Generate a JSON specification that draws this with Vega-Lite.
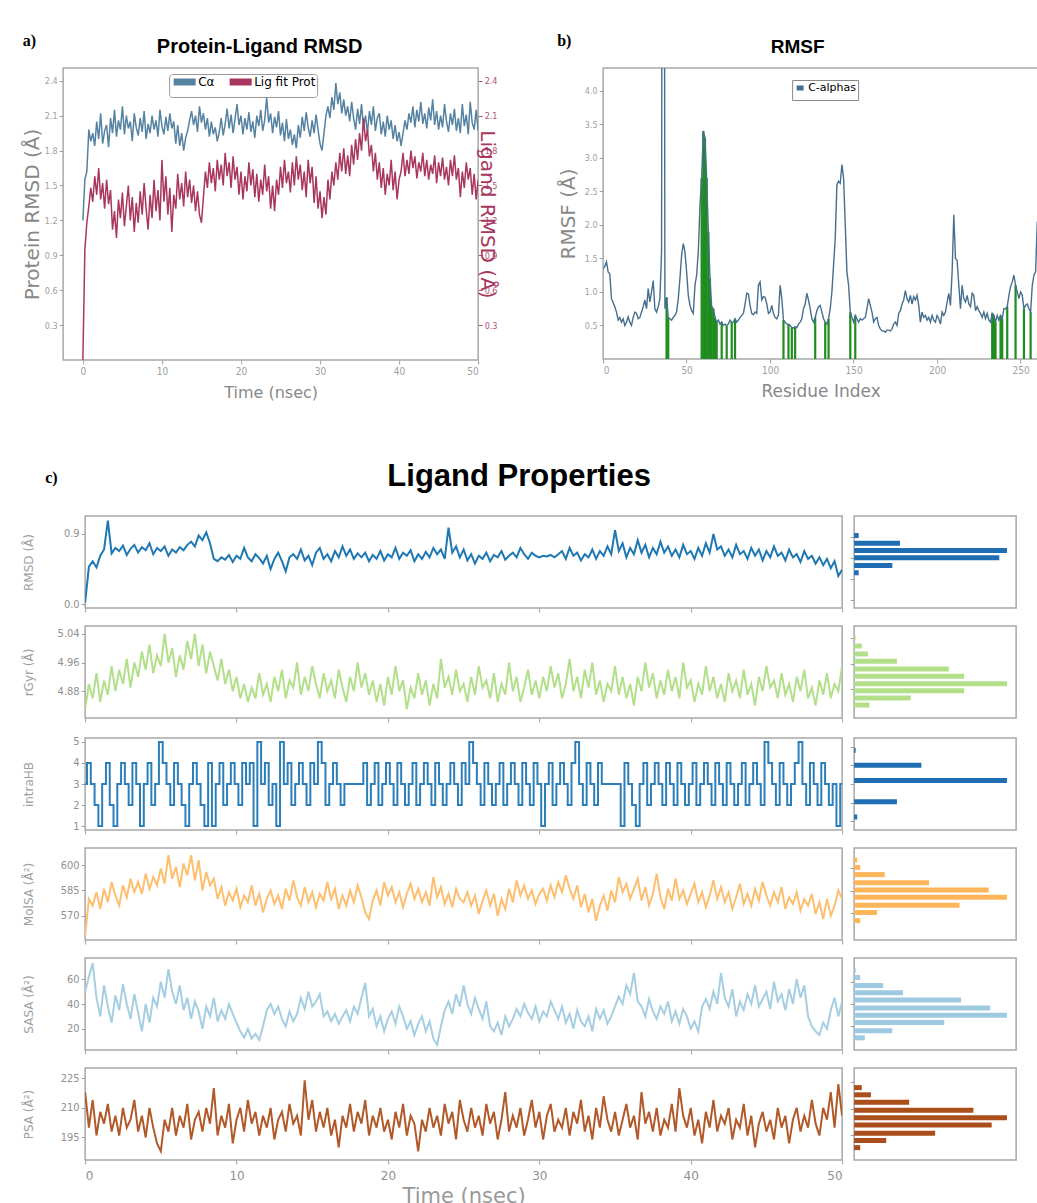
{
"$schema": "https://vega.github.io/schema/vega-lite/v6.json",
"background": "white",
"padding": {"left": 21, "top": 32, "right": 0, "bottom": 0},
"config": {
  "view": {"stroke": "#a8a8a8", "strokeWidth": 1.5},
  "axis": {"domain": false, "grid": false, "tickColor": "#a0a0a0", "tickSize": 4, "tickWidth": 1, "labelColor": "#909090", "labelFont": "DejaVu Sans Condensed, Liberation Sans Narrow, DejaVu Sans", "labelFontSize": 11, "titleColor": "#a0a0a0", "titleFont": "DejaVu Sans", "titleFontWeight": "normal", "titleFontSize": 12},
  "title": {"font": "Liberation Sans", "fontWeight": "bold", "color": "#000000"},
  "font": "DejaVu Sans"
},
"datasets": {
"md": [
{"t":0,"a":1.20,"l":0.00,"r":0.02,"g":4.83,"h":3,"m":558,"s":50,"p":218},
{"t":0.25,"a":1.55,"l":0.95,"r":0.48,"g":4.90,"h":4,"m":580,"s":62,"p":200},
{"t":0.5,"a":1.62,"l":1.18,"r":0.55,"g":4.86,"h":3,"m":576,"s":73,"p":214},
{"t":0.75,"a":1.98,"l":1.32,"r":0.47,"g":4.93,"h":2,"m":584,"s":45,"p":196},
{"t":1,"a":1.88,"l":1.48,"r":0.62,"g":4.85,"h":1,"m":574,"s":30,"p":208},
{"t":1.25,"a":1.95,"l":1.36,"r":0.70,"g":4.91,"h":3,"m":586,"s":55,"p":202},
{"t":1.5,"a":1.84,"l":1.58,"r":1.07,"g":4.87,"h":4,"m":578,"s":38,"p":212},
{"t":1.75,"a":2.05,"l":1.42,"r":0.65,"g":4.95,"h":2,"m":590,"s":25,"p":198},
{"t":2,"a":1.90,"l":1.65,"r":0.72,"g":4.88,"h":1,"m":582,"s":47,"p":206},
{"t":2.25,"a":2.12,"l":1.38,"r":0.68,"g":4.94,"h":3,"m":576,"s":35,"p":196},
{"t":2.5,"a":1.86,"l":1.52,"r":0.75,"g":4.90,"h":4,"m":588,"s":56,"p":210},
{"t":2.75,"a":1.97,"l":1.30,"r":0.63,"g":4.97,"h":3,"m":581,"s":40,"p":200},
{"t":3,"a":2.02,"l":1.55,"r":0.71,"g":4.89,"h":2,"m":592,"s":28,"p":204},
{"t":3.25,"a":1.83,"l":1.34,"r":0.76,"g":4.96,"h":4,"m":584,"s":48,"p":214},
{"t":3.5,"a":2.08,"l":1.46,"r":0.66,"g":4.92,"h":3,"m":590,"s":33,"p":198},
{"t":3.75,"a":1.95,"l":1.12,"r":0.73,"g":4.99,"h":1,"m":583,"s":18,"p":206},
{"t":4,"a":2.15,"l":1.28,"r":0.69,"g":4.94,"h":3,"m":595,"s":40,"p":195},
{"t":4.25,"a":1.92,"l":1.05,"r":0.78,"g":5.01,"h":4,"m":586,"s":25,"p":210},
{"t":4.5,"a":2.06,"l":1.38,"r":0.64,"g":4.93,"h":2,"m":593,"s":45,"p":200},
{"t":4.75,"a":1.98,"l":1.22,"r":0.72,"g":4.98,"h":3,"m":588,"s":38,"p":192},
{"t":5,"a":2.18,"l":1.44,"r":0.68,"g":4.95,"h":5,"m":598,"s":58,"p":188},
{"t":5.25,"a":1.94,"l":1.15,"r":0.74,"g":5.04,"h":4,"m":589,"s":45,"p":204},
{"t":5.5,"a":2.10,"l":1.32,"r":0.62,"g":4.96,"h":3,"m":606,"s":68,"p":198},
{"t":5.75,"a":1.99,"l":1.50,"r":0.70,"g":5.00,"h":2,"m":592,"s":50,"p":210},
{"t":6,"a":2.05,"l":1.20,"r":0.66,"g":4.92,"h":4,"m":599,"s":40,"p":196},
{"t":6.25,"a":1.88,"l":1.40,"r":0.73,"g":4.98,"h":3,"m":587,"s":55,"p":206},
{"t":6.5,"a":2.12,"l":1.10,"r":0.69,"g":4.94,"h":2,"m":601,"s":35,"p":200},
{"t":6.75,"a":2.00,"l":1.35,"r":0.76,"g":5.02,"h":1,"m":594,"s":45,"p":212},
{"t":7,"a":1.93,"l":1.18,"r":0.80,"g":4.97,"h":3,"m":606,"s":28,"p":194},
{"t":7.25,"a":2.08,"l":1.45,"r":0.74,"g":5.04,"h":4,"m":591,"s":42,"p":204},
{"t":7.5,"a":1.96,"l":1.25,"r":0.88,"g":4.95,"h":3,"m":603,"s":34,"p":208},
{"t":7.75,"a":2.14,"l":1.52,"r":0.82,"g":5.01,"h":2,"m":585,"s":20,"p":198},
{"t":8,"a":1.90,"l":1.30,"r":0.92,"g":4.93,"h":1,"m":596,"s":38,"p":210},
{"t":8.25,"a":2.03,"l":1.12,"r":0.78,"g":4.99,"h":4,"m":588,"s":30,"p":202},
{"t":8.5,"a":1.95,"l":1.42,"r":0.58,"g":4.95,"h":1,"m":592,"s":45,"p":220},
{"t":8.75,"a":2.10,"l":1.22,"r":0.55,"g":4.91,"h":3,"m":580,"s":26,"p":196},
{"t":9,"a":1.98,"l":1.55,"r":0.60,"g":4.97,"h":4,"m":587,"s":35,"p":206},
{"t":9.25,"a":2.06,"l":1.28,"r":0.57,"g":4.90,"h":2,"m":576,"s":28,"p":200},
{"t":9.5,"a":1.92,"l":1.46,"r":0.63,"g":4.94,"h":3,"m":584,"s":40,"p":212},
{"t":9.75,"a":2.15,"l":1.20,"r":0.54,"g":4.88,"h":4,"m":579,"s":32,"p":192},
{"t":10,"a":2.01,"l":1.72,"r":0.62,"g":4.92,"h":3,"m":586,"s":25,"p":204},
{"t":10.25,"a":1.94,"l":1.36,"r":0.58,"g":4.86,"h":2,"m":575,"s":18,"p":210},
{"t":10.5,"a":2.09,"l":1.58,"r":0.72,"g":4.90,"h":4,"m":582,"s":13,"p":198},
{"t":10.75,"a":1.97,"l":1.25,"r":0.60,"g":4.85,"h":3,"m":578,"s":20,"p":214},
{"t":11,"a":2.12,"l":1.48,"r":0.55,"g":4.89,"h":4,"m":588,"s":12,"p":202},
{"t":11.25,"a":1.99,"l":1.10,"r":0.64,"g":4.86,"h":1,"m":576,"s":16,"p":208},
{"t":11.5,"a":2.05,"l":1.42,"r":0.59,"g":4.93,"h":5,"m":583,"s":11,"p":196},
{"t":11.75,"a":1.86,"l":1.30,"r":0.52,"g":4.87,"h":3,"m":572,"s":22,"p":206},
{"t":12,"a":2.02,"l":1.60,"r":0.62,"g":4.90,"h":4,"m":580,"s":35,"p":200},
{"t":12.25,"a":1.84,"l":1.38,"r":0.45,"g":4.85,"h":2,"m":585,"s":40,"p":210},
{"t":12.5,"a":1.95,"l":1.52,"r":0.58,"g":4.92,"h":3,"m":577,"s":32,"p":194},
{"t":12.75,"a":1.80,"l":1.32,"r":0.66,"g":4.88,"h":1,"m":582,"s":38,"p":204},
{"t":13,"a":1.91,"l":1.62,"r":0.55,"g":4.94,"h":5,"m":574,"s":28,"p":208},
{"t":13.25,"a":1.97,"l":1.40,"r":0.42,"g":4.86,"h":3,"m":586,"s":22,"p":198},
{"t":13.5,"a":2.06,"l":1.55,"r":0.60,"g":4.91,"h":4,"m":579,"s":34,"p":212},
{"t":13.75,"a":2.14,"l":1.35,"r":0.64,"g":4.89,"h":2,"m":591,"s":26,"p":202},
{"t":14,"a":2.02,"l":1.50,"r":0.58,"g":4.96,"h":3,"m":581,"s":32,"p":206},
{"t":14.25,"a":2.10,"l":1.28,"r":0.70,"g":4.87,"h":4,"m":576,"s":45,"p":196},
{"t":14.5,"a":1.96,"l":1.45,"r":0.56,"g":4.92,"h":3,"m":587,"s":36,"p":224},
{"t":14.75,"a":2.18,"l":1.25,"r":0.62,"g":4.88,"h":2,"m":578,"s":50,"p":204},
{"t":15,"a":2.04,"l":1.18,"r":0.50,"g":4.95,"h":4,"m":584,"s":38,"p":214},
{"t":15.25,"a":2.12,"l":1.40,"r":0.66,"g":4.90,"h":3,"m":575,"s":42,"p":198},
{"t":15.5,"a":1.98,"l":1.62,"r":0.72,"g":4.86,"h":5,"m":583,"s":48,"p":208},
{"t":15.75,"a":2.08,"l":1.48,"r":0.58,"g":4.93,"h":4,"m":579,"s":30,"p":200},
{"t":16,"a":1.92,"l":1.70,"r":0.64,"g":4.88,"h":2,"m":590,"s":34,"p":210},
{"t":16.25,"a":2.05,"l":1.52,"r":0.55,"g":4.91,"h":3,"m":580,"s":26,"p":196},
{"t":16.5,"a":1.94,"l":1.65,"r":0.68,"g":4.86,"h":4,"m":586,"s":32,"p":204},
{"t":16.75,"a":2.00,"l":1.45,"r":0.60,"g":4.94,"h":3,"m":574,"s":24,"p":190},
{"t":17,"a":1.88,"l":1.72,"r":0.74,"g":4.89,"h":2,"m":582,"s":30,"p":206},
{"t":17.25,"a":1.96,"l":1.55,"r":0.62,"g":4.85,"h":3,"m":576,"s":35,"p":200},
{"t":17.5,"a":2.08,"l":1.68,"r":0.70,"g":4.92,"h":3,"m":585,"s":26,"p":212},
{"t":17.75,"a":1.93,"l":1.50,"r":0.58,"g":4.88,"h":3,"m":578,"s":38,"p":198},
{"t":18,"a":2.03,"l":1.78,"r":0.65,"g":4.96,"h":3,"m":588,"s":32,"p":208},
{"t":18.25,"a":2.16,"l":1.58,"r":0.60,"g":4.89,"h":3,"m":581,"s":45,"p":202},
{"t":18.5,"a":1.99,"l":1.70,"r":0.66,"g":4.93,"h":4,"m":572,"s":57,"p":214},
{"t":18.75,"a":2.11,"l":1.48,"r":0.55,"g":4.87,"h":2,"m":568,"s":30,"p":196},
{"t":19,"a":1.95,"l":1.75,"r":0.63,"g":4.91,"h":3,"m":579,"s":36,"p":206},
{"t":19.25,"a":2.07,"l":1.55,"r":0.58,"g":4.85,"h":4,"m":585,"s":22,"p":200},
{"t":19.5,"a":2.20,"l":1.66,"r":0.68,"g":4.90,"h":2,"m":576,"s":30,"p":210},
{"t":19.75,"a":2.02,"l":1.42,"r":0.56,"g":4.84,"h":3,"m":590,"s":18,"p":198},
{"t":20,"a":2.10,"l":1.62,"r":0.64,"g":4.92,"h":4,"m":582,"s":28,"p":204},
{"t":20.25,"a":1.94,"l":1.38,"r":0.60,"g":4.87,"h":3,"m":587,"s":34,"p":194},
{"t":20.5,"a":2.08,"l":1.58,"r":0.72,"g":4.95,"h":2,"m":578,"s":24,"p":208},
{"t":20.75,"a":1.98,"l":1.45,"r":0.58,"g":4.88,"h":4,"m":584,"s":38,"p":200},
{"t":21,"a":2.13,"l":1.70,"r":0.66,"g":4.91,"h":3,"m":575,"s":30,"p":212},
{"t":21.25,"a":1.96,"l":1.50,"r":0.62,"g":4.83,"h":2,"m":583,"s":20,"p":196},
{"t":21.5,"a":2.05,"l":1.64,"r":0.69,"g":4.89,"h":3,"m":589,"s":26,"p":206},
{"t":21.75,"a":1.91,"l":1.40,"r":0.55,"g":4.86,"h":4,"m":580,"s":15,"p":202},
{"t":22,"a":2.10,"l":1.60,"r":0.64,"g":4.93,"h":2,"m":586,"s":24,"p":188},
{"t":22.25,"a":2.01,"l":1.36,"r":0.58,"g":4.87,"h":3,"m":578,"s":30,"p":204},
{"t":22.5,"a":2.15,"l":1.55,"r":0.67,"g":4.91,"h":4,"m":584,"s":18,"p":198},
{"t":22.75,"a":1.97,"l":1.42,"r":0.60,"g":4.84,"h":3,"m":576,"s":26,"p":210},
{"t":23,"a":2.06,"l":1.68,"r":0.72,"g":4.90,"h":2,"m":593,"s":12,"p":200},
{"t":23.25,"a":2.26,"l":1.45,"r":0.64,"g":4.86,"h":4,"m":581,"s":7,"p":206},
{"t":23.5,"a":2.04,"l":1.58,"r":0.70,"g":4.97,"h":3,"m":587,"s":22,"p":196},
{"t":23.75,"a":2.12,"l":1.30,"r":0.58,"g":4.89,"h":2,"m":577,"s":35,"p":212},
{"t":24,"a":1.95,"l":1.50,"r":0.98,"g":4.92,"h":3,"m":583,"s":42,"p":202},
{"t":24.25,"a":2.09,"l":1.28,"r":0.66,"g":4.87,"h":4,"m":575,"s":32,"p":208},
{"t":24.5,"a":2.00,"l":1.55,"r":0.74,"g":4.94,"h":3,"m":586,"s":48,"p":194},
{"t":24.75,"a":2.14,"l":1.42,"r":0.60,"g":4.88,"h":2,"m":580,"s":38,"p":214},
{"t":25,"a":1.93,"l":1.66,"r":0.70,"g":4.90,"h":4,"m":578,"s":55,"p":204},
{"t":25.25,"a":2.04,"l":1.48,"r":0.56,"g":4.85,"h":3,"m":584,"s":40,"p":198},
{"t":25.5,"a":1.88,"l":1.72,"r":0.64,"g":4.92,"h":5,"m":576,"s":32,"p":210},
{"t":25.75,"a":2.07,"l":1.52,"r":0.52,"g":4.87,"h":4,"m":582,"s":45,"p":200},
{"t":26,"a":1.90,"l":1.62,"r":0.62,"g":4.95,"h":3,"m":571,"s":36,"p":206},
{"t":26.25,"a":1.98,"l":1.44,"r":0.58,"g":4.89,"h":2,"m":579,"s":28,"p":196},
{"t":26.5,"a":1.85,"l":1.70,"r":0.66,"g":4.91,"h":4,"m":585,"s":42,"p":212},
{"t":26.75,"a":1.94,"l":1.50,"r":0.55,"g":4.86,"h":3,"m":576,"s":22,"p":202},
{"t":27,"a":1.82,"l":1.75,"r":0.63,"g":4.93,"h":2,"m":583,"s":18,"p":208},
{"t":27.25,"a":2.02,"l":1.55,"r":0.60,"g":4.85,"h":3,"m":570,"s":25,"p":194},
{"t":27.5,"a":1.91,"l":1.68,"r":0.68,"g":4.90,"h":4,"m":580,"s":15,"p":204},
{"t":27.75,"a":2.09,"l":1.46,"r":0.57,"g":4.87,"h":2,"m":574,"s":30,"p":218},
{"t":28,"a":1.97,"l":1.62,"r":0.62,"g":4.96,"h":3,"m":586,"s":22,"p":198},
{"t":28.25,"a":2.13,"l":1.40,"r":0.66,"g":4.88,"h":4,"m":578,"s":28,"p":206},
{"t":28.5,"a":2.00,"l":1.72,"r":0.60,"g":4.92,"h":3,"m":591,"s":36,"p":200},
{"t":28.75,"a":1.92,"l":1.52,"r":0.72,"g":4.85,"h":2,"m":582,"s":30,"p":210},
{"t":29,"a":2.06,"l":1.66,"r":0.64,"g":4.89,"h":4,"m":588,"s":40,"p":196},
{"t":29.25,"a":1.95,"l":1.35,"r":0.58,"g":4.94,"h":3,"m":580,"s":33,"p":204},
{"t":29.5,"a":2.11,"l":1.58,"r":0.66,"g":4.87,"h":2,"m":585,"s":28,"p":214},
{"t":29.75,"a":1.98,"l":1.30,"r":0.62,"g":4.91,"h":4,"m":577,"s":38,"p":200},
{"t":30,"a":1.86,"l":1.45,"r":0.60,"g":4.86,"h":3,"m":583,"s":26,"p":208},
{"t":30.25,"a":1.80,"l":1.22,"r":0.62,"g":4.92,"h":1,"m":586,"s":34,"p":194},
{"t":30.5,"a":1.95,"l":1.40,"r":0.61,"g":4.88,"h":3,"m":579,"s":30,"p":206},
{"t":30.75,"a":2.10,"l":1.25,"r":0.63,"g":4.95,"h":4,"m":588,"s":42,"p":212},
{"t":31,"a":2.18,"l":1.55,"r":0.60,"g":4.89,"h":2,"m":581,"s":35,"p":198},
{"t":31.25,"a":2.08,"l":1.38,"r":0.64,"g":4.93,"h":3,"m":590,"s":28,"p":204},
{"t":31.5,"a":2.26,"l":1.62,"r":0.68,"g":4.86,"h":4,"m":584,"s":38,"p":200},
{"t":31.75,"a":2.15,"l":1.50,"r":0.58,"g":4.90,"h":3,"m":594,"s":25,"p":210},
{"t":32,"a":2.38,"l":1.70,"r":0.72,"g":4.97,"h":2,"m":586,"s":32,"p":196},
{"t":32.25,"a":2.20,"l":1.55,"r":0.62,"g":4.88,"h":4,"m":580,"s":20,"p":208},
{"t":32.5,"a":2.30,"l":1.78,"r":0.66,"g":4.92,"h":5,"m":588,"s":35,"p":202},
{"t":32.75,"a":2.12,"l":1.62,"r":0.56,"g":4.86,"h":3,"m":575,"s":26,"p":214},
{"t":33,"a":2.24,"l":1.82,"r":0.64,"g":4.94,"h":2,"m":583,"s":22,"p":198},
{"t":33.25,"a":2.10,"l":1.60,"r":0.60,"g":4.89,"h":4,"m":572,"s":30,"p":206},
{"t":33.5,"a":2.18,"l":1.76,"r":0.70,"g":4.96,"h":3,"m":580,"s":18,"p":194},
{"t":33.75,"a":2.05,"l":1.58,"r":0.58,"g":4.87,"h":2,"m":567,"s":36,"p":210},
{"t":34,"a":2.22,"l":1.85,"r":0.68,"g":4.91,"h":4,"m":576,"s":28,"p":200},
{"t":34.25,"a":2.08,"l":1.68,"r":0.62,"g":4.85,"h":3,"m":582,"s":35,"p":216},
{"t":34.5,"a":1.98,"l":1.90,"r":0.74,"g":4.90,"h":3,"m":573,"s":24,"p":204},
{"t":34.75,"a":2.16,"l":1.72,"r":0.64,"g":4.88,"h":3,"m":585,"s":30,"p":198},
{"t":35,"a":2.03,"l":1.95,"r":0.95,"g":4.95,"h":3,"m":578,"s":38,"p":208},
{"t":35.25,"a":2.20,"l":1.80,"r":0.68,"g":4.87,"h":3,"m":593,"s":46,"p":196},
{"t":35.5,"a":2.00,"l":2.08,"r":0.78,"g":4.92,"h":1,"m":584,"s":40,"p":204},
{"t":35.75,"a":2.10,"l":1.88,"r":0.60,"g":4.86,"h":4,"m":589,"s":55,"p":212},
{"t":36,"a":1.95,"l":1.98,"r":0.72,"g":4.90,"h":3,"m":580,"s":48,"p":200},
{"t":36.25,"a":2.14,"l":1.75,"r":0.64,"g":4.84,"h":2,"m":586,"s":65,"p":206},
{"t":36.5,"a":2.02,"l":1.85,"r":0.82,"g":4.92,"h":1,"m":592,"s":42,"p":194},
{"t":36.75,"a":2.18,"l":1.62,"r":0.66,"g":4.88,"h":3,"m":579,"s":38,"p":218},
{"t":37,"a":1.97,"l":1.78,"r":0.76,"g":4.96,"h":4,"m":587,"s":30,"p":202},
{"t":37.25,"a":2.08,"l":1.55,"r":0.60,"g":4.89,"h":2,"m":576,"s":44,"p":208},
{"t":37.5,"a":2.12,"l":1.70,"r":0.72,"g":4.93,"h":3,"m":583,"s":34,"p":198},
{"t":37.75,"a":1.94,"l":1.48,"r":0.64,"g":4.86,"h":4,"m":595,"s":28,"p":210},
{"t":38,"a":2.05,"l":1.65,"r":0.80,"g":4.91,"h":3,"m":581,"s":38,"p":196},
{"t":38.25,"a":1.92,"l":1.42,"r":0.66,"g":4.87,"h":2,"m":574,"s":32,"p":204},
{"t":38.5,"a":2.10,"l":1.60,"r":0.74,"g":4.94,"h":4,"m":586,"s":42,"p":200},
{"t":38.75,"a":1.98,"l":1.50,"r":0.62,"g":4.88,"h":3,"m":579,"s":26,"p":212},
{"t":39,"a":2.06,"l":1.72,"r":0.70,"g":4.92,"h":2,"m":592,"s":34,"p":198},
{"t":39.25,"a":1.90,"l":1.46,"r":0.60,"g":4.86,"h":4,"m":580,"s":24,"p":220},
{"t":39.5,"a":2.02,"l":1.62,"r":0.76,"g":4.96,"h":3,"m":585,"s":36,"p":206},
{"t":39.75,"a":1.88,"l":1.38,"r":0.64,"g":4.89,"h":2,"m":577,"s":30,"p":200},
{"t":40,"a":1.96,"l":1.55,"r":0.68,"g":4.91,"h":3,"m":583,"s":20,"p":210},
{"t":40.25,"a":1.84,"l":1.62,"r":0.58,"g":4.85,"h":4,"m":589,"s":26,"p":196},
{"t":40.5,"a":1.95,"l":1.78,"r":0.72,"g":4.90,"h":2,"m":578,"s":18,"p":204},
{"t":40.75,"a":2.06,"l":1.58,"r":0.62,"g":4.87,"h":3,"m":584,"s":38,"p":192},
{"t":41,"a":1.98,"l":1.72,"r":0.78,"g":4.95,"h":4,"m":575,"s":44,"p":208},
{"t":41.25,"a":2.12,"l":1.60,"r":0.66,"g":4.88,"h":3,"m":582,"s":36,"p":200},
{"t":41.5,"a":2.04,"l":1.80,"r":0.90,"g":4.92,"h":2,"m":591,"s":50,"p":214},
{"t":41.75,"a":2.18,"l":1.65,"r":0.70,"g":4.86,"h":4,"m":580,"s":40,"p":198},
{"t":42,"a":2.00,"l":1.75,"r":0.74,"g":4.90,"h":3,"m":587,"s":65,"p":206},
{"t":42.25,"a":2.15,"l":1.56,"r":0.62,"g":4.85,"h":2,"m":578,"s":45,"p":202},
{"t":42.5,"a":2.05,"l":1.70,"r":0.70,"g":4.93,"h":4,"m":584,"s":38,"p":210},
{"t":42.75,"a":2.22,"l":1.62,"r":0.60,"g":4.88,"h":3,"m":574,"s":52,"p":194},
{"t":43,"a":2.03,"l":1.78,"r":0.76,"g":4.91,"h":2,"m":581,"s":30,"p":204},
{"t":43.25,"a":2.12,"l":1.58,"r":0.64,"g":4.86,"h":3,"m":589,"s":42,"p":200},
{"t":43.5,"a":1.99,"l":1.72,"r":0.68,"g":4.94,"h":4,"m":577,"s":35,"p":212},
{"t":43.75,"a":2.17,"l":1.55,"r":0.58,"g":4.87,"h":2,"m":583,"s":48,"p":196},
{"t":44,"a":2.06,"l":1.68,"r":0.72,"g":4.90,"h":3,"m":576,"s":40,"p":206},
{"t":44.25,"a":2.24,"l":1.60,"r":0.62,"g":4.84,"h":4,"m":586,"s":55,"p":190},
{"t":44.5,"a":2.02,"l":1.76,"r":0.70,"g":4.92,"h":3,"m":579,"s":38,"p":202},
{"t":44.75,"a":2.14,"l":1.52,"r":0.56,"g":4.88,"h":2,"m":590,"s":44,"p":208},
{"t":45,"a":1.98,"l":1.70,"r":0.68,"g":4.95,"h":5,"m":582,"s":50,"p":198},
{"t":45.25,"a":2.10,"l":1.58,"r":0.60,"g":4.89,"h":4,"m":576,"s":36,"p":204},
{"t":45.5,"a":2.00,"l":1.74,"r":0.74,"g":4.91,"h":3,"m":584,"s":58,"p":194},
{"t":45.75,"a":2.20,"l":1.55,"r":0.62,"g":4.86,"h":2,"m":578,"s":42,"p":210},
{"t":46,"a":2.05,"l":1.66,"r":0.66,"g":4.93,"h":4,"m":587,"s":48,"p":200},
{"t":46.25,"a":1.96,"l":1.50,"r":0.56,"g":4.87,"h":3,"m":574,"s":35,"p":206},
{"t":46.5,"a":2.12,"l":1.72,"r":0.70,"g":4.90,"h":2,"m":581,"s":52,"p":192},
{"t":46.75,"a":2.02,"l":1.58,"r":0.60,"g":4.85,"h":3,"m":577,"s":40,"p":204},
{"t":47,"a":2.16,"l":1.76,"r":0.64,"g":4.92,"h":4,"m":584,"s":60,"p":210},
{"t":47.25,"a":1.97,"l":1.55,"r":0.54,"g":4.88,"h":5,"m":573,"s":45,"p":198},
{"t":47.5,"a":2.08,"l":1.65,"r":0.68,"g":4.94,"h":3,"m":580,"s":55,"p":206},
{"t":47.75,"a":1.95,"l":1.40,"r":0.58,"g":4.86,"h":2,"m":576,"s":30,"p":200},
{"t":48,"a":2.20,"l":1.62,"r":0.62,"g":4.89,"h":4,"m":583,"s":22,"p":214},
{"t":48.25,"a":2.01,"l":1.48,"r":0.52,"g":4.84,"h":3,"m":571,"s":18,"p":202},
{"t":48.5,"a":2.11,"l":1.70,"r":0.60,"g":4.91,"h":2,"m":578,"s":15,"p":196},
{"t":48.75,"a":1.94,"l":1.55,"r":0.50,"g":4.87,"h":4,"m":568,"s":25,"p":210},
{"t":49,"a":2.22,"l":1.65,"r":0.58,"g":4.93,"h":3,"m":580,"s":20,"p":204},
{"t":49.25,"a":2.04,"l":1.42,"r":0.46,"g":4.86,"h":2,"m":570,"s":35,"p":218},
{"t":49.5,"a":1.98,"l":1.60,"r":0.55,"g":4.90,"h":3,"m":576,"s":45,"p":200},
{"t":49.75,"a":2.15,"l":1.38,"r":0.36,"g":4.88,"h":1,"m":585,"s":30,"p":222},
{"t":50,"a":1.97,"l":1.55,"r":0.44,"g":4.95,"h":3,"m":580,"s":42,"p":206}
],
"rmsf": [
{"r":0,"v":1.35},{"r":1,"v":1.38},{"r":2,"v":1.45},{"r":3,"v":1.3},{"r":4,"v":1.27},{"r":5,"v":0.9},{"r":6,"v":0.84},{"r":7,"v":0.78},{"r":8,"v":0.7},{"r":9,"v":0.58},
{"r":10,"v":0.62},{"r":11,"v":0.55},{"r":12,"v":0.6},{"r":13,"v":0.5},{"r":14,"v":0.55},{"r":15,"v":0.63},{"r":16,"v":0.55},{"r":17,"v":0.5},{"r":18,"v":0.62},{"r":19,"v":0.7},
{"r":20,"v":0.68},{"r":21,"v":0.6},{"r":22,"v":0.62},{"r":23,"v":0.7},{"r":24,"v":0.78},{"r":25,"v":0.88},{"r":26,"v":0.75},{"r":27,"v":1.05},{"r":28,"v":0.85},{"r":29,"v":1.0},
{"r":30,"v":1.17},{"r":31,"v":0.75},{"r":32,"v":0.7},{"r":33,"v":0.78},{"r":34,"v":0.9},{"r":35,"v":1.6},{"r":36,"v":20},{"r":37,"v":0.75},{"r":38,"v":0.92,"c":1},{"r":39,"v":0.62,"c":1},
{"r":40,"v":0.6},{"r":41,"v":0.58},{"r":42,"v":0.62},{"r":43,"v":0.65},{"r":44,"v":0.7},{"r":45,"v":0.9},{"r":46,"v":1.2},{"r":47,"v":1.55},{"r":48,"v":1.72},{"r":49,"v":1.6},
{"r":50,"v":1.3},{"r":51,"v":0.95},{"r":52,"v":0.8},{"r":53,"v":0.72},{"r":54,"v":0.68},{"r":55,"v":1.1},{"r":56,"v":1.25},{"r":57,"v":1.6},{"r":58,"v":2.3},{"r":59,"v":2.7,"c":1},
{"r":60,"v":3.4,"c":1},{"r":61,"v":3.3,"c":1},{"r":62,"v":2.7,"c":1},{"r":63,"v":1.9,"c":1},{"r":64,"v":1.2,"c":1},{"r":65,"v":0.78,"c":1},{"r":66,"v":0.75,"c":1},{"r":67,"v":0.62,"c":1},{"r":68,"v":0.55,"c":1},{"r":69,"v":0.58},
{"r":70,"v":0.52},{"r":71,"v":0.55,"c":1},{"r":72,"v":0.5},{"r":73,"v":0.52},{"r":74,"v":0.5,"c":1},{"r":75,"v":0.52},{"r":76,"v":0.58},{"r":77,"v":0.55,"c":1},{"r":78,"v":0.55},{"r":79,"v":0.6,"c":1},
{"r":80,"v":0.55},{"r":81,"v":0.58},{"r":82,"v":0.62},{"r":83,"v":0.65},{"r":84,"v":0.68},{"r":85,"v":0.82},{"r":86,"v":0.98},{"r":87,"v":0.97},{"r":88,"v":0.8},{"r":89,"v":0.68},
{"r":90,"v":0.66},{"r":91,"v":0.7},{"r":92,"v":0.68},{"r":93,"v":1.1},{"r":94,"v":1.15},{"r":95,"v":0.88},{"r":96,"v":0.93},{"r":97,"v":0.92},{"r":98,"v":0.82},{"r":99,"v":0.68},
{"r":100,"v":0.7},{"r":101,"v":0.8},{"r":102,"v":0.68},{"r":103,"v":0.62},{"r":104,"v":0.6},{"r":105,"v":0.66},{"r":106,"v":1.1},{"r":107,"v":0.9},{"r":108,"v":0.58,"c":1},{"r":109,"v":0.55},
{"r":110,"v":0.52},{"r":111,"v":0.52,"c":1},{"r":112,"v":0.5},{"r":113,"v":0.47,"c":1},{"r":114,"v":0.46},{"r":115,"v":0.48,"c":1},{"r":116,"v":0.47},{"r":117,"v":0.52},{"r":118,"v":0.55},{"r":119,"v":0.6},
{"r":120,"v":0.75},{"r":121,"v":0.82},{"r":122,"v":0.98},{"r":123,"v":0.88},{"r":124,"v":0.75},{"r":125,"v":0.6},{"r":126,"v":0.55},{"r":127,"v":0.62,"c":1},{"r":128,"v":0.72},{"r":129,"v":0.78},
{"r":130,"v":0.8},{"r":131,"v":0.7},{"r":132,"v":0.6},{"r":133,"v":0.55,"c":1},{"r":134,"v":0.52},{"r":135,"v":0.6,"c":1},{"r":136,"v":0.75},{"r":137,"v":1.0},{"r":138,"v":1.4},{"r":139,"v":1.8},
{"r":140,"v":2.6},{"r":141,"v":2.65},{"r":142,"v":2.62},{"r":143,"v":2.9},{"r":144,"v":2.7},{"r":145,"v":2.0},{"r":146,"v":1.3},{"r":147,"v":1.1},{"r":148,"v":0.7,"c":1},{"r":149,"v":0.62},
{"r":150,"v":0.55},{"r":151,"v":0.65,"c":1},{"r":152,"v":0.6},{"r":153,"v":0.55},{"r":154,"v":0.6},{"r":155,"v":0.58},{"r":156,"v":0.6},{"r":157,"v":0.62},{"r":158,"v":0.75},{"r":159,"v":0.9},
{"r":160,"v":0.8},{"r":161,"v":0.7},{"r":162,"v":0.55},{"r":163,"v":0.6},{"r":164,"v":0.62},{"r":165,"v":0.5},{"r":166,"v":0.45},{"r":167,"v":0.42},{"r":168,"v":0.42},{"r":169,"v":0.4},
{"r":170,"v":0.43},{"r":171,"v":0.43},{"r":172,"v":0.42},{"r":173,"v":0.45},{"r":174,"v":0.52},{"r":175,"v":0.55},{"r":176,"v":0.5},{"r":177,"v":0.68},{"r":178,"v":0.72},{"r":179,"v":0.82},
{"r":180,"v":0.88},{"r":181,"v":1.02},{"r":182,"v":0.9},{"r":183,"v":0.85},{"r":184,"v":0.95},{"r":185,"v":0.82},{"r":186,"v":0.93},{"r":187,"v":0.88},{"r":188,"v":0.95},{"r":189,"v":0.8},
{"r":190,"v":0.55},{"r":191,"v":0.7},{"r":192,"v":0.62},{"r":193,"v":0.65},{"r":194,"v":0.58},{"r":195,"v":0.62},{"r":196,"v":0.55},{"r":197,"v":0.65},{"r":198,"v":0.58},{"r":199,"v":0.55},
{"r":200,"v":0.65},{"r":201,"v":0.6},{"r":202,"v":0.52},{"r":203,"v":0.7},{"r":204,"v":0.65},{"r":205,"v":0.7},{"r":206,"v":0.85},{"r":207,"v":0.98},{"r":208,"v":0.8},{"r":209,"v":1.3},
{"r":210,"v":2.15},{"r":211,"v":1.5},{"r":212,"v":1.47},{"r":213,"v":1.1},{"r":214,"v":0.75},{"r":215,"v":1.1},{"r":216,"v":0.9},{"r":217,"v":0.85},{"r":218,"v":0.95},{"r":219,"v":0.82},
{"r":220,"v":0.78},{"r":221,"v":0.98},{"r":222,"v":0.95},{"r":223,"v":0.72},{"r":224,"v":0.78},{"r":225,"v":0.72},{"r":226,"v":0.68},{"r":227,"v":0.62},{"r":228,"v":0.7},{"r":229,"v":0.6},
{"r":230,"v":0.68},{"r":231,"v":0.58},{"r":232,"v":0.55},{"r":233,"v":0.68,"c":1},{"r":234,"v":0.65,"c":1},{"r":235,"v":0.55,"c":1},{"r":236,"v":0.65},{"r":237,"v":0.58},{"r":238,"v":0.65,"c":1},{"r":239,"v":0.6,"c":1},
{"r":240,"v":0.75},{"r":241,"v":0.75},{"r":242,"v":0.78,"c":1},{"r":243,"v":0.95},{"r":244,"v":1.08},{"r":245,"v":1.15},{"r":246,"v":1.25},{"r":247,"v":1.1,"c":1},{"r":248,"v":1.0},{"r":249,"v":0.9},
{"r":250,"v":1.0},{"r":251,"v":0.95},{"r":252,"v":0.75,"c":1},{"r":253,"v":0.8},{"r":254,"v":0.82},{"r":255,"v":0.75},{"r":256,"v":0.7,"c":1},{"r":257,"v":1.1},{"r":258,"v":1.25},{"r":259,"v":1.3},
{"r":260,"v":2.05}
],
"hist": [
{"p":"r","v":0.92,"c":3},{"p":"r","v":0.81,"c":30},{"p":"r","v":0.707,"c":100},{"p":"r","v":0.60,"c":95},{"p":"r","v":0.49,"c":25},{"p":"r","v":0.385,"c":3},
{"p":"g","v":5.04,"c":1},{"p":"g","v":5.015,"c":5},{"p":"g","v":4.99,"c":9},{"p":"g","v":4.967,"c":28},{"p":"g","v":4.943,"c":62},{"p":"g","v":4.92,"c":72},{"p":"g","v":4.897,"c":100},{"p":"g","v":4.875,"c":72},{"p":"g","v":4.852,"c":37},{"p":"g","v":4.83,"c":10},
{"p":"h","v":4.8,"c":1},{"p":"h","v":4.0,"c":44},{"p":"h","v":3.19,"c":100},{"p":"h","v":2.05,"c":28},{"p":"h","v":1.24,"c":2},
{"p":"m","v":605.4,"c":2},{"p":"m","v":600.6,"c":4},{"p":"m","v":595.8,"c":20},{"p":"m","v":590.4,"c":49},{"p":"m","v":585.6,"c":88},{"p":"m","v":580.8,"c":100},{"p":"m","v":575.4,"c":69},{"p":"m","v":570.6,"c":15},{"p":"m","v":565.2,"c":4},
{"p":"s","v":70.6,"c":1},{"p":"s","v":64,"c":4},{"p":"s","v":56.7,"c":19},{"p":"s","v":50.2,"c":32},{"p":"s","v":43.7,"c":70},{"p":"s","v":36.3,"c":89},{"p":"s","v":29.8,"c":100},{"p":"s","v":23.3,"c":59},{"p":"s","v":15.9,"c":25},{"p":"s","v":9.4,"c":7},
{"p":"p","v":221.9,"c":5},{"p":"p","v":217.8,"c":11},{"p":"p","v":213.6,"c":36},{"p":"p","v":209,"c":78},{"p":"p","v":204.8,"c":100},{"p":"p","v":200.7,"c":90},{"p":"p","v":196,"c":53},{"p":"p","v":191.9,"c":21},{"p":"p","v":187.8,"c":4}
]
},
"spacing": 60,
"center": true,
"vconcat": [
{
 "spacing": 58,
 "resolve": {"scale": {"color": "independent"}, "legend": {"color": "independent"}},
 "hconcat": [
  {
   "width": 415, "height": 292,
   "title": {"text": "Protein-Ligand RMSD", "fontSize": 20, "frame": "bounds", "offset": -24},
   "data": {"name": "md"},
   "layer": [
    {"mark": {"type": "line", "strokeWidth": 1.5, "clip": true},
     "encoding": {
      "x": {"field": "t", "type": "quantitative", "scale": {"domain": [-2.5, 50], "nice": false, "zero": false}, "axis": {"values": [0,10,20,30,40,50], "title": "Time (nsec)", "titleFontSize": 16, "titleColor": "#888888", "labelFontSize": 10, "labelColor": "#a0a0a0", "titlePadding": 8}},
      "y": {"field": "a", "type": "quantitative", "scale": {"domain": [0, 2.51], "nice": false}, "axis": {"values": [0.3,0.6,0.9,1.2,1.5,1.8,2.1,2.4], "format": ".1f", "title": "Protein RMSD (Å)", "titleFontSize": 20, "titleColor": "#888888", "labelFontSize": 9, "labelColor": "#a0a0a0", "titlePadding": 2}},
      "color": {"datum": "Cα", "type": "nominal", "scale": {"domain": ["Cα", "Lig fit Prot"], "range": ["#5682a2", "#a8365f"]},
        "legend": {"title": null, "orient": "none", "legendX": 106, "legendY": 6, "direction": "horizontal", "gridAlign": "none", "symbolType": "M-1,0H5.3", "symbolSize": 49, "symbolStrokeWidth": 7, "labelFontSize": 12, "labelFont": "DejaVu Sans", "labelColor": "#000000", "strokeColor": "#999999", "fillColor": "white", "padding": 1, "columnPadding": 0, "labelOffset": 14, "cornerRadius": 3}}
     }},
    {"mark": {"type": "line", "strokeWidth": 1.5, "clip": true},
     "encoding": {
      "x": {"field": "t", "type": "quantitative"},
      "y": {"field": "l", "type": "quantitative", "scale": {"domain": [0, 2.51], "nice": false}, "axis": {"orient": "right", "values": [0.3,0.6,0.9,1.2,1.5,1.8,2.1,2.4], "format": ".1f", "title": "Ligand RMSD (Å)", "titleFontSize": 20, "titleColor": "#a8365f", "labelFontSize": 9, "labelColor": "#b05078", "tickColor": "#b05078", "titlePadding": -20}},
      "color": {"datum": "Lig fit Prot", "type": "nominal"}
     }},
    {"data": {"values": [{"lab": "a)"}]},
     "mark": {"type": "text", "font": "Liberation Serif", "fontWeight": "bold", "fontSize": 16, "align": "left", "baseline": "middle", "color": "#000000"},
     "encoding": {"x": {"datum": -7.6, "type": "quantitative"}, "y": {"datum": 2.74, "type": "quantitative", "scale": {"domain": [0, 2.51], "nice": false}, "axis": null}, "text": {"field": "lab"}}}
   ],
   "resolve": {"scale": {"y": "independent"}}
  },
  {
   "width": 435, "height": 291,
   "title": {"text": "RMSF", "fontSize": 19, "frame": "bounds", "offset": -24},
   "layer": [
    {"data": {"name": "rmsf"},
     "transform": [{"filter": "datum.c === 1"}],
     "mark": {"type": "rule", "color": "#1e8c1e", "strokeWidth": 2.2},
     "encoding": {
      "x": {"field": "r", "type": "quantitative", "scale": {"domain": [0, 260.5], "nice": false}, "axis": {"values": [0,50,100,150,200,250], "title": "Residue Index", "titleFontSize": 17, "titleColor": "#888888", "labelFontSize": 10, "labelColor": "#a0a0a0", "titlePadding": 8}},
      "y": {"field": "v", "type": "quantitative", "scale": {"domain": [0, 4.34], "nice": false}, "axis": {"values": [0.5,1,1.5,2,2.5,3,3.5,4], "format": ".1f", "title": "RMSF (Å)", "titleFontSize": 20, "titleColor": "#888888", "labelFontSize": 9, "labelColor": "#a0a0a0", "titlePadding": 6}},
      "y2": {"datum": 0}
     }},
    {"data": {"name": "rmsf"},
     "mark": {"type": "line", "strokeWidth": 1.4, "clip": true},
     "encoding": {
      "x": {"field": "r", "type": "quantitative"},
      "y": {"field": "v", "type": "quantitative"},
      "color": {"datum": "C-alphas", "type": "nominal", "scale": {"domain": ["C-alphas"], "range": ["#466f8f"]},
        "legend": {"title": null, "orient": "none", "legendX": 189, "legendY": 12, "symbolType": "M-1,0H1", "symbolSize": 49, "symbolStrokeWidth": 5, "labelFontSize": 11, "labelFont": "DejaVu Sans", "labelColor": "#000000", "strokeColor": "#888888", "fillColor": "white", "padding": 2, "labelOffset": 2}}
     }},
    {"data": {"values": [{"lab": "b)"}]},
     "mark": {"type": "text", "font": "Liberation Serif", "fontWeight": "bold", "fontSize": 16, "align": "left", "baseline": "middle", "color": "#000000"},
     "encoding": {"x": {"datum": -27.5, "type": "quantitative"}, "y": {"datum": 4.74, "type": "quantitative"}, "text": {"field": "lab"}}}
   ]
  }
 ]
},
{
 "title": {"text": "Ligand Properties", "fontSize": 31, "offset": -24, "anchor": "middle"},
 "spacing": 11,
 "vconcat": [
  {"spacing": 4, "hconcat": [
   {"width": 757, "height": 92, "data": {"name": "md"},
    "layer": [
     {"mark": {"type": "line", "color": "#1f78b4", "strokeWidth": 2, "clip": true},
      "encoding": {
       "x": {"field": "t", "type": "quantitative", "scale": {"domain": [0, 50], "nice": false}, "axis": {"values": [0,10,20,30,40,50], "labels": false, "title": null}},
       "y": {"field": "r", "type": "quantitative", "scale": {"domain": [-0.05, 1.13], "nice": false, "zero": false}, "axis": {"values": [0,0.3,0.6,0.9], "format": ".1f", "title": "RMSD (Å)", "titleX": -50}}
      }},
     {"data": {"values": [{"lab": "c)"}]},
      "mark": {"type": "text", "font": "Liberation Serif", "fontWeight": "bold", "fontSize": 16, "align": "left", "baseline": "middle", "color": "#000000"},
      "encoding": {"x": {"datum": -2.64, "type": "quantitative"}, "y": {"datum": 1.62, "type": "quantitative"}, "text": {"field": "lab"}}}
    ]},
   {"width": 162, "height": 92, "data": {"name": "hist"}, "transform": [{"filter": "datum.p === 'r'"}],
    "mark": {"type": "bar", "orient": "horizontal", "color": "#1f6db2", "size": 5},
    "encoding": {
     "y": {"field": "v", "type": "quantitative", "scale": {"domain": [-0.05, 1.13], "nice": false, "zero": false}, "axis": {"values": [0,0.3,0.6,0.9], "labels": false, "title": null}},
     "x": {"field": "c", "type": "quantitative", "scale": {"domain": [0, 106], "nice": false}, "axis": null}
    }}
  ]},
  {"spacing": 4, "hconcat": [
   {"width": 757, "height": 92, "data": {"name": "md"},
    "mark": {"type": "line", "color": "#b2df8a", "strokeWidth": 2, "clip": true},
    "encoding": {
     "x": {"field": "t", "type": "quantitative", "scale": {"domain": [0, 50], "nice": false}, "axis": {"values": [0,10,20,30,40,50], "labels": false, "title": null}},
     "y": {"field": "g", "type": "quantitative", "scale": {"domain": [4.805, 5.062], "nice": false, "zero": false}, "axis": {"values": [4.88,4.96,5.04], "format": ".2f", "title": "rGyr (Å)", "titleX": -50}}
    }},
   {"width": 162, "height": 92, "data": {"name": "hist"}, "transform": [{"filter": "datum.p === 'g'"}],
    "mark": {"type": "bar", "orient": "horizontal", "color": "#b2df8a", "size": 5},
    "encoding": {
     "y": {"field": "v", "type": "quantitative", "scale": {"domain": [4.805, 5.062], "nice": false, "zero": false}, "axis": {"values": [4.88,4.96,5.04], "labels": false, "title": null}},
     "x": {"field": "c", "type": "quantitative", "scale": {"domain": [0, 106], "nice": false}, "axis": null}
    }}
  ]},
  {"spacing": 4, "hconcat": [
   {"width": 757, "height": 92, "data": {"name": "md"},
    "mark": {"type": "line", "color": "#2a7fba", "strokeWidth": 2, "clip": true, "interpolate": "step"},
    "encoding": {
     "x": {"field": "t", "type": "quantitative", "scale": {"domain": [0, 50], "nice": false}, "axis": {"values": [0,10,20,30,40,50], "labels": false, "title": null}},
     "y": {"field": "h", "type": "quantitative", "scale": {"domain": [0.81, 5.19], "nice": false, "zero": false}, "axis": {"values": [1,2,3,4,5], "format": "d", "title": "intraHB", "titleX": -50}}
    }},
   {"width": 162, "height": 92, "data": {"name": "hist"}, "transform": [{"filter": "datum.p === 'h'"}],
    "mark": {"type": "bar", "orient": "horizontal", "color": "#1f6db2", "size": 5},
    "encoding": {
     "y": {"field": "v", "type": "quantitative", "scale": {"domain": [0.81, 5.19], "nice": false, "zero": false}, "axis": {"values": [1,2,3,4,5], "labels": false, "title": null}},
     "x": {"field": "c", "type": "quantitative", "scale": {"domain": [0, 106], "nice": false}, "axis": null}
    }}
  ]},
  {"spacing": 4, "hconcat": [
   {"width": 757, "height": 92, "data": {"name": "md"},
    "mark": {"type": "line", "color": "#fdbf6f", "strokeWidth": 2, "clip": true},
    "encoding": {
     "x": {"field": "t", "type": "quantitative", "scale": {"domain": [0, 50], "nice": false}, "axis": {"values": [0,10,20,30,40,50], "labels": false, "title": null}},
     "y": {"field": "m", "type": "quantitative", "scale": {"domain": [555.6, 610.2], "nice": false, "zero": false}, "axis": {"values": [570,585,600], "format": "d", "title": "MolSA (Å²)", "titleX": -50}}
    }},
   {"width": 162, "height": 92, "data": {"name": "hist"}, "transform": [{"filter": "datum.p === 'm'"}],
    "mark": {"type": "bar", "orient": "horizontal", "color": "#fdb55a", "size": 5},
    "encoding": {
     "y": {"field": "v", "type": "quantitative", "scale": {"domain": [555.6, 610.2], "nice": false, "zero": false}, "axis": {"values": [570,585,600], "labels": false, "title": null}},
     "x": {"field": "c", "type": "quantitative", "scale": {"domain": [0, 106], "nice": false}, "axis": null}
    }}
  ]},
  {"spacing": 4, "hconcat": [
   {"width": 757, "height": 92, "data": {"name": "md"},
    "mark": {"type": "line", "color": "#a6cee3", "strokeWidth": 2, "clip": true},
    "encoding": {
     "x": {"field": "t", "type": "quantitative", "scale": {"domain": [0, 50], "nice": false}, "axis": {"values": [0,10,20,30,40,50], "labels": false, "title": null}},
     "y": {"field": "s", "type": "quantitative", "scale": {"domain": [2.9, 77.1], "nice": false, "zero": false}, "axis": {"values": [20,40,60], "format": "d", "title": "SASA (Å²)", "titleX": -50}}
    }},
   {"width": 162, "height": 92, "data": {"name": "hist"}, "transform": [{"filter": "datum.p === 's'"}],
    "mark": {"type": "bar", "orient": "horizontal", "color": "#9ecae1", "size": 5},
    "encoding": {
     "y": {"field": "v", "type": "quantitative", "scale": {"domain": [2.9, 77.1], "nice": false, "zero": false}, "axis": {"values": [20,40,60], "labels": false, "title": null}},
     "x": {"field": "c", "type": "quantitative", "scale": {"domain": [0, 106], "nice": false}, "axis": null}
    }}
  ]},
  {"spacing": 4, "hconcat": [
   {"width": 757, "height": 92, "data": {"name": "md"},
    "mark": {"type": "line", "color": "#b15928", "strokeWidth": 2, "clip": true},
    "encoding": {
     "x": {"field": "t", "type": "quantitative", "scale": {"domain": [0, 50], "nice": false}, "axis": {"values": [0,10,20,30,40,50], "labels": true, "labelFontSize": 12, "labelFont": "DejaVu Sans", "labelPadding": 6, "title": "Time (nsec)", "titleFontSize": 21, "titleColor": "#999999", "titlePadding": 4}},
     "y": {"field": "p", "type": "quantitative", "scale": {"domain": [183.6, 230.2], "nice": false, "zero": false}, "axis": {"values": [195,210,225], "format": "d", "title": "PSA (Å²)", "titleX": -50}}
    }},
   {"width": 162, "height": 92, "data": {"name": "hist"}, "transform": [{"filter": "datum.p === 'p'"}],
    "mark": {"type": "bar", "orient": "horizontal", "color": "#aa4e1c", "size": 5},
    "encoding": {
     "y": {"field": "v", "type": "quantitative", "scale": {"domain": [183.6, 230.2], "nice": false, "zero": false}, "axis": {"values": [195,210,225], "labels": false, "title": null}},
     "x": {"field": "c", "type": "quantitative", "scale": {"domain": [0, 106], "nice": false}, "axis": null}
    }}
  ]}
 ]
}
]
}
